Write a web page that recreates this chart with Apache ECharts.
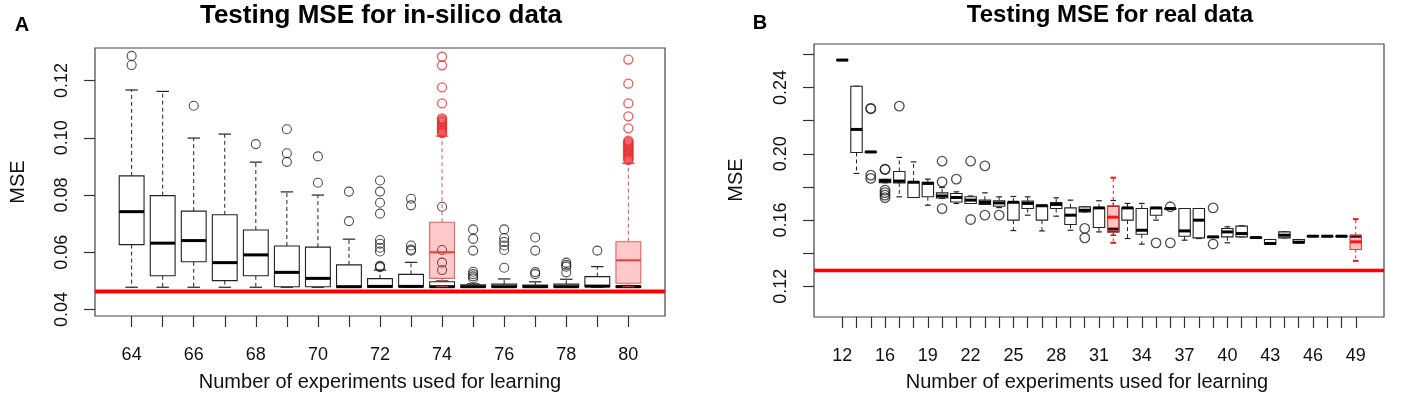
<!DOCTYPE html>
<html><head><meta charset="utf-8">
<script src="https://cdn.jsdelivr.net/npm/echarts@6/dist/echarts.min.js"></script>
<style>html,body{margin:0;padding:0;background:#fff}#c{width:1406px;height:403px}</style>
</head><body><div id="c"></div>
<script>
// ---------- Panel A: in-silico data ----------
const leftCategories = [64,65,66,67,68,69,70,71,72,73,74,75,76,77,78,79,80];
const leftLabelCats = [64,66,68,70,72,74,76,78,80];
const leftLow  = [0.0478,0.0478,0.0478,0.0478,0.0478,0.0478,0.0478,0.0478,0.0478,0.0478,0.0478,0.0478,0.0478,0.0478,0.0478,0.0478,0.0478];
const leftQ1   = [0.0627,0.0518,0.0567,0.0501,0.0518,0.0480,0.0480,0.0478,0.0478,0.0480,0.0478,0.0478,0.0478,0.0478,0.0478,0.0480,0.0478];
const leftMed  = [0.0742,0.0632,0.0641,0.0564,0.0591,0.0530,0.0509,0.0480,0.0481,0.0481,0.0480,0.0480,0.0480,0.0480,0.0480,0.0482,0.0480];
const leftQ3   = [0.0867,0.0798,0.0744,0.0731,0.0678,0.0622,0.0618,0.0556,0.0508,0.0523,0.0497,0.0487,0.0489,0.0486,0.0489,0.0515,0.0482];
const leftHigh = [0.1167,0.1162,0.0999,0.1013,0.0915,0.0811,0.0800,0.0646,0.0538,0.0565,0.0500,0.0490,0.0507,0.0497,0.0506,0.0550,0.0484];
const leftOutliers = [
  [0.1286,0.1254],
  [],
  [0.1112],
  [],
  [0.0978],
  [0.1030,0.0946,0.0916],
  [0.0935,0.0843],
  [0.0812,0.0709],
  [0.0851,0.0812,0.0773,0.0735,0.0643,0.0630,0.0616,0.0603,0.0553,0.0550,0.0548],
  [0.0787,0.0764,0.0624,0.0610,0.0606],
  [0.0759,0.0608,0.0564,0.0538],
  [0.0680,0.0647,0.0606,0.0532,0.0524,0.0516,0.0509],
  [0.0680,0.0650,0.0636,0.0624,0.0608,0.0546],
  [0.0652,0.0606,0.0531,0.0524],
  [0.0564,0.0556,0.0550,0.0530],
  [0.0606],
  []
];
// red highlighted boxes (overlays) in panel A
const leftRedCats = [74, 80];
const leftRedLow  = [0.0480, 0.0480];
const leftRedQ1   = [0.0509, 0.0492];
const leftRedMed  = [0.0600, 0.0572];
const leftRedQ3   = [0.0705, 0.0637];
const leftRedHigh = [0.1006, 0.0911];
const leftRedOutliers = [
  [0.1016,0.1020,0.1024,0.1028,0.1032,0.1036,0.1040,0.1044,0.1048,0.1052,0.1056,0.1060,0.1064,0.1068,0.1120,0.1176,0.1253,0.1283],
  [0.0922,0.0926,0.0930,0.0934,0.0938,0.0942,0.0946,0.0950,0.0954,0.0958,0.0962,0.0966,0.0970,0.0974,0.0978,0.0982,0.0986,0.0990,0.1033,0.1075,0.1120,0.1189,0.1273]
];
const leftReference = 0.0463;
const leftYTicks = [0.04,0.06,0.08,0.10,0.12];

// ---------- Panel B: real data ----------
const rightCategories = [12,14,15,16,17,18,19,20,21,22,23,24,25,26,27,28,29,30,31,32,33,34,35,36,37,38,39,40,41,42,43,44,45,46,47,48,49];
const rightLabelCats = [12,16,19,22,25,28,31,34,37,40,43,46,49];
const rightLow  = [0.2566,0.1881,0.2011,0.1825,0.1740,0.1736,0.1689,0.1730,0.1700,0.1700,0.1694,0.1675,0.1536,0.1629,0.1534,0.1623,0.1538,0.1649,0.1528,0.1508,0.1488,0.1454,0.1599,0.1669,0.1478,0.1488,0.1498,0.1462,0.1498,0.1494,0.1454,0.1492,0.1462,0.1500,0.1502,0.1502,0.1502];
const rightQ1   = [0.2566,0.2008,0.2011,0.1825,0.1824,0.1736,0.1740,0.1733,0.1709,0.1700,0.1694,0.1683,0.1599,0.1669,0.1599,0.1669,0.1573,0.1649,0.1555,0.1530,0.1599,0.1514,0.1629,0.1669,0.1502,0.1492,0.1498,0.1498,0.1498,0.1494,0.1454,0.1492,0.1462,0.1500,0.1502,0.1502,0.1502];
const rightMed  = [0.2566,0.2147,0.2011,0.1835,0.1835,0.1828,0.1821,0.1745,0.1736,0.1720,0.1706,0.1703,0.1707,0.1700,0.1686,0.1694,0.1629,0.1659,0.1673,0.1545,0.1673,0.1538,0.1673,0.1669,0.1534,0.1599,0.1498,0.1528,0.1518,0.1494,0.1458,0.1508,0.1466,0.1502,0.1502,0.1502,0.1502];
const rightQ3   = [0.2566,0.2408,0.2011,0.1845,0.1893,0.1830,0.1827,0.1764,0.1760,0.1740,0.1720,0.1716,0.1709,0.1714,0.1689,0.1706,0.1673,0.1679,0.1673,0.1682,0.1673,0.1669,0.1673,0.1669,0.1669,0.1669,0.1498,0.1549,0.1563,0.1494,0.1482,0.1528,0.1482,0.1504,0.1502,0.1502,0.1502];
const rightHigh = [0.2566,0.2408,0.2011,0.1845,0.1978,0.1951,0.1847,0.1796,0.1770,0.1745,0.1764,0.1740,0.1742,0.1740,0.1689,0.1734,0.1720,0.1679,0.1716,0.1718,0.1700,0.1700,0.1673,0.1669,0.1669,0.1669,0.1498,0.1559,0.1565,0.1494,0.1482,0.1528,0.1482,0.1504,0.1502,0.1502,0.1502];
const rightOutliers = [
  [],[],[0.2274,0.2272,0.1871,0.1851],[0.1907,0.1905,0.1780,0.1765,0.1750,0.1735],[0.2288],[],[],
  [0.1955,0.1830,0.1669],[0.1847],[0.1955,0.1603],[0.1927,0.1629],[0.1629],[],[],[],[],[],
  [0.1549,0.1492],[],[],[],[],[0.1462],[0.1680,0.1462],[],[],[0.1673,0.1455],[],[],[],[],[],[],[],[],[],[]
];
const rightRedCats = [32, 49];
const rightRedLow  = [0.1462, 0.1353];
const rightRedQ1   = [0.1525, 0.1422];
const rightRedMed  = [0.1617, 0.1468];
const rightRedQ3   = [0.1685, 0.1508];
const rightRedHigh = [0.1855, 0.1605];
const rightReference = 0.1295;
const rightYTicks = [0.12,0.14,0.16,0.18,0.20,0.22,0.24,0.26];
const rightYLabels = [0.12,0.16,0.20,0.24];

// ---------- helpers ----------
const FONT = "'Liberation Sans', Arial, Helvetica, sans-serif";

function boxRows(cats, allCats, lo, q1, md, q3, hi) {
  return cats.map((c, i) => [allCats.indexOf(c), lo[i], q1[i], md[i], q3[i], hi[i]]);
}
function outlierRows(cats, allCats, outs) {
  const rows = [];
  cats.forEach((c, i) => (outs[i] || []).forEach(v => rows.push([allCats.indexOf(c), v])));
  return rows;
}

function makeBox(st) {
  return function (params, api) {
    const x = api.value(0);
    const p = [1, 2, 3, 4, 5].map(k => api.coord([x, api.value(k)]));
    const cx = p[0][0];
    const w = api.size([0.8, 0])[0];
    const half = w / 2, cap = w / 4;
    const yLo = p[0][1], yQ1 = p[1][1], yMd = p[2][1], yQ3 = p[3][1], yHi = p[4][1];
    return {
      type: 'group',
      children: [
        { type: 'line', shape: { x1: cx, y1: yQ3, x2: cx, y2: yHi }, style: { stroke: st.whisker, lineWidth: 1, lineDash: st.dash } },
        { type: 'line', shape: { x1: cx, y1: yQ1, x2: cx, y2: yLo }, style: { stroke: st.whisker, lineWidth: 1, lineDash: st.dash } },
        { type: 'line', shape: { x1: cx - cap, y1: yHi, x2: cx + cap, y2: yHi }, style: { stroke: st.cap, lineWidth: st.capW } },
        { type: 'line', shape: { x1: cx - cap, y1: yLo, x2: cx + cap, y2: yLo }, style: { stroke: st.cap, lineWidth: st.capW } },
        { type: 'rect', shape: { x: cx - half, y: yQ3, width: w, height: Math.max(yQ1 - yQ3, 0.5) }, style: { fill: st.fill, stroke: st.stroke, lineWidth: 1.1 } },
        { type: 'line', shape: { x1: cx - half, y1: yMd, x2: cx + half, y2: yMd }, style: { stroke: st.median, lineWidth: st.medW } }
      ]
    };
  };
}
function makeRefLine(width) {
  return function (params, api) {
    const cs = params.coordSys;
    const y = api.coord([0, api.value(1)])[1];
    return { type: 'line', shape: { x1: cs.x, y1: y, x2: cs.x + cs.width, y2: y }, style: { stroke: '#ff0000', lineWidth: width } };
  };
}

const blackStyle = { whisker: '#222', cap: '#222', capW: 1.2, dash: [4, 3], fill: '#ffffff', stroke: '#222', median: '#000', medW: 3 };
const redStyleA  = { whisker: '#e05050', cap: '#e03030', capW: 1.2, dash: [4, 3], fill: 'rgba(255,40,40,0.25)', stroke: '#e86060', median: '#e83a3a', medW: 2 };
const redStyleB  = { whisker: '#e02020', cap: '#e02020', capW: 2, dash: [3, 3], fill: 'rgba(255,40,40,0.28)', stroke: '#d84040', median: '#ff1010', medW: 3 };

function xAxisCfg(gridIndex, cats, labelCats, min, max) {
  return {
    type: 'value', gridIndex, min, max,
    splitLine: { show: false },
    axisLine: { show: false, onZero: false },
    axisTick: { show: true, length: 11, customValues: cats.map((c, i) => i), lineStyle: { color: '#333', width: 1.2 } },
    axisLabel: {
      customValues: labelCats.map(c => cats.indexOf(c)),
      formatter: v => String(cats[Math.round(v)]),
      margin: 30, fontSize: 18, color: '#111', fontFamily: FONT
    }
  };
}
function yAxisCfg(gridIndex, min, max, ticks, labels) {
  return {
    type: 'value', gridIndex, min, max,
    splitLine: { show: false },
    axisLine: { show: false, onZero: false },
    axisTick: { show: true, length: 11, customValues: ticks, lineStyle: { color: '#333', width: 1.2 } },
    axisLabel: {
      customValues: labels, rotate: 90, margin: 24,
      formatter: v => Number(v).toFixed(2),
      fontSize: 18, color: '#111', fontFamily: FONT
    }
  };
}

const leftAllRows = boxRows(leftCategories, leftCategories, leftLow, leftQ1, leftMed, leftQ3, leftHigh);
const leftRedRows = boxRows(leftRedCats, leftCategories, leftRedLow, leftRedQ1, leftRedMed, leftRedQ3, leftRedHigh);
const rightAllRows = boxRows(rightCategories, rightCategories, rightLow, rightQ1, rightMed, rightQ3, rightHigh);
const rightRedRows = boxRows(rightRedCats, rightCategories, rightRedLow, rightRedQ1, rightRedMed, rightRedQ3, rightRedHigh);

const circle = (color, size, bw) => ({
  type: 'scatter', symbol: 'circle', symbolSize: size,
  itemStyle: { color: 'rgba(0,0,0,0)', borderColor: color, borderWidth: bw },
  silent: true, z: 5
});

const chart = echarts.init(document.getElementById('c'), null, { renderer: 'canvas' });
chart.setOption({
  animation: false,
  backgroundColor: '#fff',
  textStyle: { fontFamily: FONT },
  grid: [
    { left: 95, top: 48, width: 570, height: 268, show: true, borderColor: '#444', borderWidth: 1.2, backgroundColor: 'transparent' },
    { left: 814, top: 44, width: 570, height: 273, show: true, borderColor: '#444', borderWidth: 1.2, backgroundColor: 'transparent' }
  ],
  xAxis: [
    xAxisCfg(0, leftCategories, leftLabelCats, -1.18, 17.18),
    xAxisCfg(1, rightCategories, rightLabelCats, -1.98, 37.98)
  ],
  yAxis: [
    yAxisCfg(0, 0.03776, 0.13136, leftYTicks, leftYTicks),
    yAxisCfg(1, 0.1014, 0.2663, rightYTicks, rightYLabels)
  ],
  graphic: [
    { type: 'text', x: 22, y: 25, style: { text: 'A', font: "bold 20px " + FONT, fill: '#000', textAlign: 'center', textVerticalAlign: 'middle' } },
    { type: 'text', x: 381, y: 16, style: { text: 'Testing MSE for in-silico data', font: "bold 26px " + FONT, fill: '#000', textAlign: 'center', textVerticalAlign: 'middle' } },
    { type: 'text', x: 760, y: 23, style: { text: 'B', font: "bold 20px " + FONT, fill: '#000', textAlign: 'center', textVerticalAlign: 'middle' } },
    { type: 'text', x: 1110, y: 15, style: { text: 'Testing MSE for real data', font: "bold 24px " + FONT, fill: '#000', textAlign: 'center', textVerticalAlign: 'middle' } },
    { type: 'text', x: 18, y: 182, rotation: Math.PI / 2, style: { text: 'MSE', font: "20px " + FONT, fill: '#111', textAlign: 'center', textVerticalAlign: 'middle' } },
    { type: 'text', x: 736, y: 180, rotation: Math.PI / 2, style: { text: 'MSE', font: "20px " + FONT, fill: '#111', textAlign: 'center', textVerticalAlign: 'middle' } },
    { type: 'text', x: 380, y: 382, style: { text: 'Number of experiments used for learning', font: "20px " + FONT, fill: '#111', textAlign: 'center', textVerticalAlign: 'middle' } },
    { type: 'text', x: 1087, y: 382, style: { text: 'Number of experiments used for learning', font: "20px " + FONT, fill: '#111', textAlign: 'center', textVerticalAlign: 'middle' } }
  ],
  series: [
    // Panel A
    { type: 'custom', xAxisIndex: 0, yAxisIndex: 0, renderItem: makeBox(blackStyle), data: leftAllRows, z: 2, silent: true },
    Object.assign(circle('#222', 9, 1.1), { xAxisIndex: 0, yAxisIndex: 0, data: outlierRows(leftCategories, leftCategories, leftOutliers) }),
    { type: 'custom', xAxisIndex: 0, yAxisIndex: 0, renderItem: makeBox(redStyleA), data: leftRedRows, z: 6, silent: true },
    Object.assign(circle('#e83030', 9, 1.3), { xAxisIndex: 0, yAxisIndex: 0, z: 7, data: outlierRows(leftRedCats, leftCategories, leftRedOutliers) }),
    { type: 'custom', xAxisIndex: 0, yAxisIndex: 0, renderItem: makeRefLine(4), data: [[0, leftReference]], z: 8, silent: true },
    // Panel B
    { type: 'custom', xAxisIndex: 1, yAxisIndex: 1, renderItem: makeBox(blackStyle), data: rightAllRows, z: 2, silent: true },
    Object.assign(circle('#222', 9.5, 1.3), { xAxisIndex: 1, yAxisIndex: 1, data: outlierRows(rightCategories, rightCategories, rightOutliers) }),
    { type: 'custom', xAxisIndex: 1, yAxisIndex: 1, renderItem: makeBox(redStyleB), data: rightRedRows, z: 6, silent: true },
    { type: 'custom', xAxisIndex: 1, yAxisIndex: 1, renderItem: makeRefLine(3.5), data: [[0, rightReference]], z: 8, silent: true }
  ]
});
</script>
</body></html>
